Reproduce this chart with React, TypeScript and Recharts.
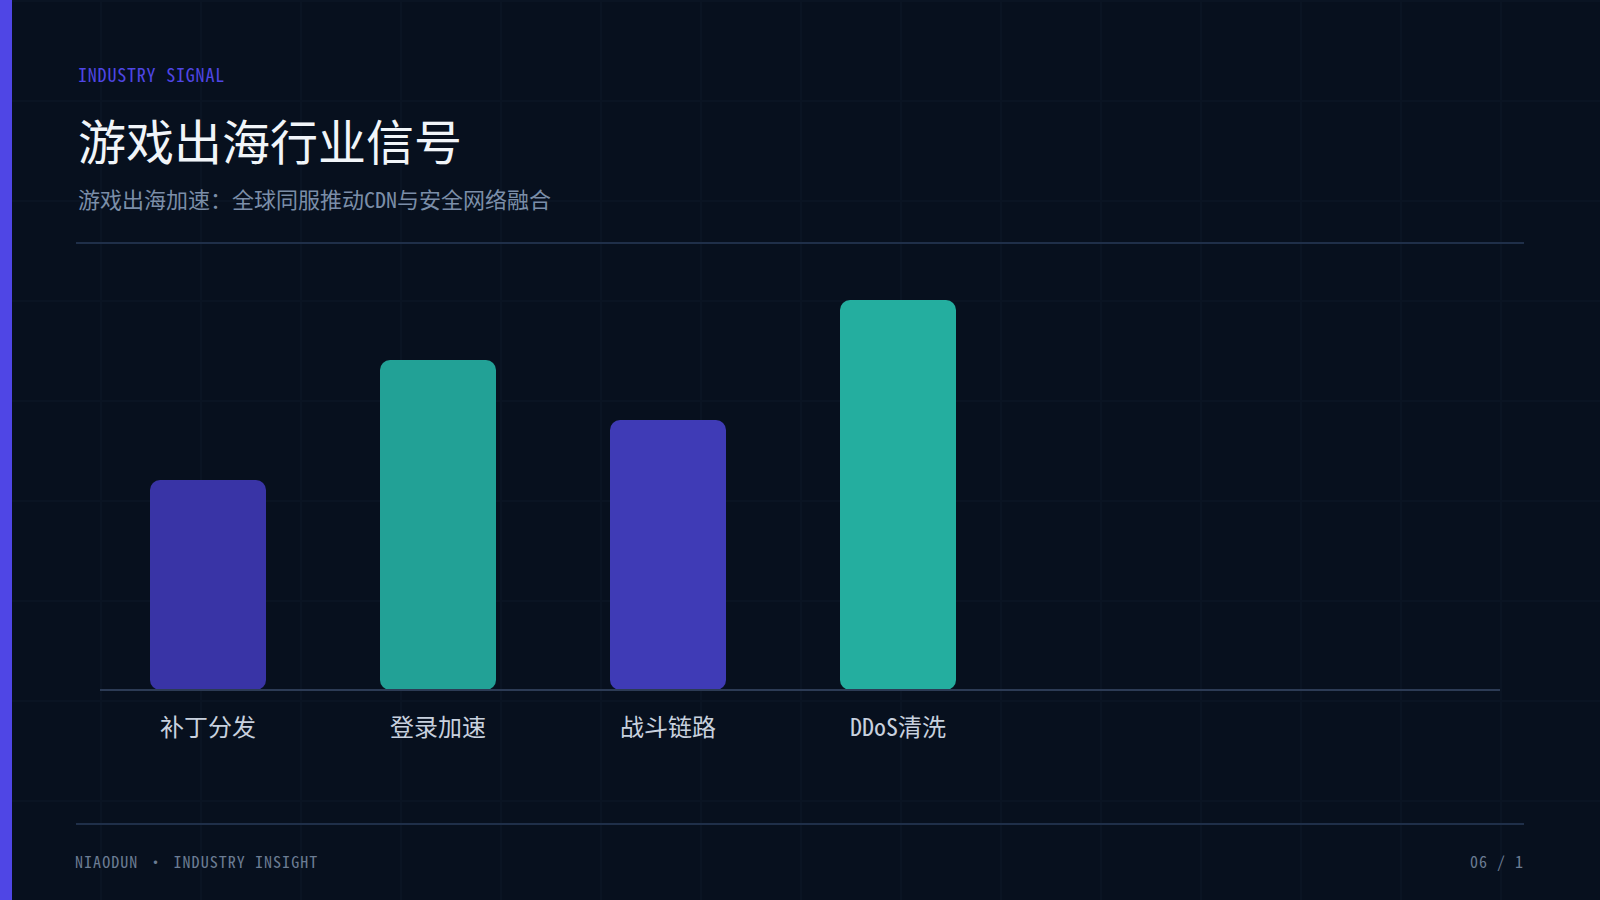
import React from "react";
import { BarChart, Bar, XAxis, YAxis, Cell } from "recharts";

const categories = ["补丁分发", "登录加速", "战斗链路", "DDoS清洗"];
const signalValues = [35, 55, 45, 65];
const barColors = ["#3934a6", "#22a196", "#3f3bb6", "#24ae9f"];

const chartData = categories.map((name, i) => ({ name, value: signalValues[i] }));

const MONO = '"Noto Sans Mono CJK SC", "Noto Sans CJK SC", "DejaVu Sans Mono", monospace';

export default function App() {
  return (
    <div
      style={{
        position: "absolute",
        left: 0,
        top: 0,
        width: 1600,
        height: 900,
        overflow: "hidden",
        backgroundColor: "#07101e",
        backgroundImage:
          "linear-gradient(#0a1423 2px, transparent 2px), linear-gradient(90deg, #0a1423 2px, transparent 2px)",
        backgroundSize: "100px 100px",
        fontFamily: MONO,
      }}
    >
      <div style={{ position: "absolute", left: 0, top: 0, width: 12, height: 900, background: "#4f46e5" }} />

      <div style={{ position: "absolute", left: 78, top: 65, fontSize: 18, lineHeight: 1, letterSpacing: 0.8, color: "#4f46e5" }}>
        INDUSTRY SIGNAL
      </div>
      <div style={{ position: "absolute", left: 78, top: 115, fontSize: 48, lineHeight: 1, fontWeight: 400, color: "#f1f5f9", whiteSpace: "nowrap" }}>
        游戏出海行业信号
      </div>
      <div style={{ position: "absolute", left: 78, top: 187, fontSize: 22, lineHeight: 1, color: "#7b8ea8", whiteSpace: "nowrap" }}>
        游戏出海加速：全球同服推动CDN与安全网络融合
      </div>
      <div style={{ position: "absolute", left: 76, top: 242, width: 1448, height: 2, background: "#1f2f49" }} />

      <div style={{ position: "absolute", left: 0, top: 0 }}>
        <BarChart width={1600} height={900} data={chartData} margin={{ top: 300, right: 100, bottom: 150, left: 100 }}>
          <XAxis
            dataKey="name"
            height={60}
            padding={{ left: -7, right: 487 }}
            axisLine={{ stroke: "#2c3b55", strokeWidth: 2 }}
            tickLine={false}
            tickSize={0}
            tickMargin={29}
            tick={{ fill: "#c8d1de", fontSize: 24, fontFamily: MONO }}
            interval={0}
          />
          <YAxis hide domain={[0, 65]} />
          <Bar dataKey="value" barSize={116} radius={10} isAnimationActive={false}>
            {chartData.map((d, i) => (
              <Cell key={d.name} fill={barColors[i]} />
            ))}
          </Bar>
        </BarChart>
      </div>

      <div style={{ position: "absolute", left: 76, top: 823, width: 1448, height: 2, background: "#1f2f49" }} />
      <div style={{ position: "absolute", left: 75, top: 853, fontSize: 16, lineHeight: 1, letterSpacing: 1.05, color: "#6b7c93", whiteSpace: "pre" }}>
        NIAODUN · INDUSTRY INSIGHT
      </div>
      <div style={{ position: "absolute", right: 76, top: 853, fontSize: 16, lineHeight: 1, letterSpacing: 1, color: "#6b7c93", whiteSpace: "pre" }}>
        06 / 1
      </div>
    </div>
  );
}
